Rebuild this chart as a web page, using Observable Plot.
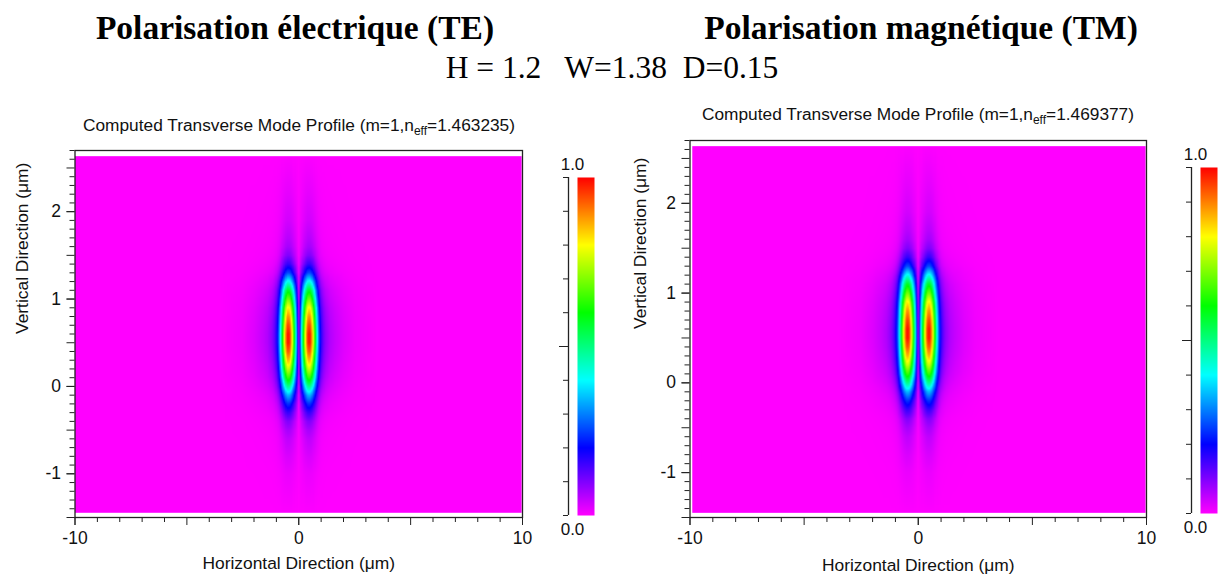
<!DOCTYPE html>
<html><head><meta charset="utf-8">
<script src="https://cdn.jsdelivr.net/npm/d3@7"></script>
<script src="https://cdn.jsdelivr.net/npm/@observablehq/plot@0.6"></script>
<style>
body{margin:0;background:#fff;}
#page{position:relative;width:1225px;height:578px;overflow:hidden;font-family:"Liberation Sans",Arial,sans-serif;color:#111;}
#page svg{position:absolute;top:0;}
.hdr{position:absolute;font-family:"Liberation Serif","Times New Roman",serif;white-space:pre;transform:translate(-50%,-50%);color:#000;line-height:1;}
.ttl{position:absolute;font-size:17.3px;white-space:nowrap;transform:translate(-50%,-50%);line-height:1;color:#111;}
.ttl sub{font-size:12px;vertical-align:-4px;line-height:0;}
</style></head><body><div id="page"></div><script>
// ---------- data ----------
const headers = ["Polarisation électrique (TE)", "Polarisation magnétique (TM)"];
const paramsLine = "H = 1.2   W=1.38  D=0.15";
const titlePrefix = "Computed Transverse Mode Profile (m=1,n";
const neffValues = ["1.463235", "1.469377"];
const xLabel = "Horizontal Direction (μm)";
const yLabel = "Vertical Direction (μm)";
const xDomain = [-10, 10];
const yDomain = [-1.5, 2.7];
const xTickLabels = [-10, 0, 10];
const yTickLabels = [-1, 0, 1, 2];
const colorbarLabels = ["1.0", "0.0"];
// horizontal cut through the lobes (x in µm, relative field)
const profileX      = [-10, -3.5, -2.5, -2.0, -1.6, -1.4, -1.2, -1.1, -1.0, -0.9, -0.8, -0.7, -0.6, -0.5, -0.4, -0.3, -0.2, -0.1, -0.05, 0, 0.05, 0.1, 0.2, 0.3, 0.4, 0.5, 0.6, 0.7, 0.8, 0.9, 1.0, 1.1, 1.2, 1.4, 1.6, 2.0, 2.5, 3.5, 10];
const profileXValue = [0, 0, 0.01, 0.025, 0.045, 0.06, 0.09, 0.12, 0.17, 0.27, 0.45, 0.67, 0.87, 0.99, 0.97, 0.81, 0.59, 0.35, 0.21, 0.04, 0.21, 0.35, 0.59, 0.81, 0.97, 0.99, 0.87, 0.67, 0.45, 0.27, 0.17, 0.12, 0.09, 0.06, 0.045, 0.025, 0.01, 0, 0];
// vertical cut through a lobe (y in µm, relative field)
const profileY      = [-1.5, -1.0, -0.8, -0.6, -0.5, -0.4, -0.3, -0.2, -0.1, 0.0, 0.1, 0.2, 0.3, 0.4, 0.5, 0.6, 0.7, 0.8, 0.9, 1.0, 1.1, 1.2, 1.3, 1.4, 1.5, 1.6, 1.7, 1.9, 2.2, 2.7];
const profileYValue = [0, 0.015, 0.03, 0.05, 0.07, 0.1, 0.16, 0.24, 0.35, 0.5, 0.65, 0.77, 0.87, 0.95, 1.0, 1.0, 0.96, 0.9, 0.82, 0.7, 0.58, 0.42, 0.26, 0.16, 0.1, 0.07, 0.055, 0.035, 0.02, 0];
const colorStops = [0, 0.2, 0.4, 0.6, 0.8, 1];
const colorStopColors = ["#ff00ff", "#0000ff", "#00ffff", "#00ff00", "#ffff00", "#ff0000"];
const colorbarTicks = [0, 0.1, 0.2, 0.3, 0.4, 0.5, 0.6, 0.7, 0.8, 0.9, 1.0];

// ---------- layout ----------
const H = 578;
const panels = [
  {x0: 74.5, x1: 522, y0: 150, y1: 517, rx: [-10, 9.96], ry: [-1.446, 2.635], ylabX: 22, xlabY: 568,
   title: [299, 126], cb: {axis: 568, bar0: 577, bar1: 594, top: 177, bottom: 515}, hdr: 295},
  {x0: 689.5, x1: 1146, y0: 140, y1: 517, rx: [-9.9, 9.96], ry: [-1.448, 2.637], ylabX: 640, xlabY: 570,
   title: [918, 115], cb: {axis: 1191, bar0: 1200, bar1: 1217, top: 167, bottom: 513}, hdr: 921}
];

const page = document.getElementById("page");
const color = {type: "linear", domain: colorStops, range: colorStopColors, interpolate: "rgb", clamp: true};

// field grid: outer product of the two cuts
const grid = [];
profileX.forEach((x, i) => profileY.forEach((y, j) => grid.push({x, y, v: profileXValue[i] * profileYValue[j]})));

const range = (a, b, s) => d3.range(Math.round(a / s), Math.round(b / s) + 1).map(k => +(k * s).toFixed(3));
const xMinor = range(-10, 10, 1).filter(d => d % 5 !== 0);
const xMajor = range(-10, 10, 5);
const yMinor = range(-1.5, 2.7, 0.1).filter(d => Math.abs(d * 2 - Math.round(d * 2)) > 1e-6);
const yMajor = range(-1.5, 2.5, 0.5);
const empty = () => "";
const baseStyle = {background: "transparent", fontFamily: "Liberation Sans, Arial, sans-serif", fontSize: "17px", color: "#111", overflow: "visible"};

panels.forEach((p, k) => {
  const width = p.x1 + 12;
  const main = Plot.plot({
    width, height: H,
    marginLeft: p.x0, marginRight: width - p.x1, marginTop: p.y0, marginBottom: H - p.y1,
    style: baseStyle,
    x: {domain: xDomain, label: null},
    y: {domain: yDomain, label: null},
    color,
    marks: [
      Plot.raster(grid, {x: "x", y: "y", fill: "v", interpolate: "barycentric", x1: p.rx[0], x2: p.rx[1], y1: p.ry[0], y2: p.ry[1]}),
      Plot.frame({stroke: "#222", strokeWidth: 1.3}),
      Plot.axisX({ticks: xMinor, tickSize: 5, tickFormat: empty, stroke: "#222", label: null}),
      Plot.axisX({ticks: xMajor, tickSize: 8, tickFormat: empty, stroke: "#222", label: null}),
      Plot.axisX({ticks: xTickLabels, tickSize: 8, tickPadding: 6, tickFormat: d => String(d), fontSize: 17.5, stroke: "#222", label: null}),
      Plot.axisY({ticks: yMinor, tickSize: 5, tickFormat: empty, stroke: "#222", label: null}),
      Plot.axisY({ticks: yMajor, tickSize: 8, tickFormat: empty, stroke: "#222", label: null}),
      Plot.axisY({ticks: yTickLabels, tickSize: 8, tickPadding: 6, tickFormat: d => String(d), fontSize: 17.5, stroke: "#222", label: null}),
      Plot.text([yLabel], {frameAnchor: "left", rotate: -90, dx: p.ylabX - p.x0, fontSize: 17.4}),
      Plot.text([xLabel], {frameAnchor: "bottom", dy: p.xlabY - p.y1, fontSize: 17.4})
    ]
  });
  main.style.left = "0px";
  page.appendChild(main);

  const c = p.cb, cbLeft = c.axis - 30, cbWidth = 70;
  const barStart = (c.bar0 - c.axis) / (c.bar1 - c.axis);
  const bar = Plot.plot({
    width: cbWidth, height: H,
    marginLeft: c.axis - cbLeft, marginRight: cbLeft + cbWidth - c.bar1, marginTop: c.top, marginBottom: H - c.bottom,
    style: baseStyle,
    x: {domain: [0, 1], axis: null},
    y: {domain: [0, 1], axis: null},
    color,
    marks: [
      Plot.raster({fill: (x, y) => y, x1: barStart, x2: 1, y1: 0, y2: 1}),
      Plot.ruleX([0], {stroke: "#222", strokeWidth: 1.3}),
      Plot.axisY({ticks: colorbarTicks, tickSize: 5, tickFormat: empty, stroke: "#222", label: null}),
      Plot.axisY({ticks: [0.5], tickSize: 9, tickFormat: empty, stroke: "#222", label: null}),
      Plot.text([colorbarLabels[0]], {frameAnchor: "top-left", lineAnchor: "middle", dx: 4, dy: -13, fontSize: 17, textAnchor: "middle"}),
      Plot.text([colorbarLabels[1]], {frameAnchor: "bottom-left", lineAnchor: "middle", dx: 4, dy: 14, fontSize: 17, textAnchor: "middle"})
    ]
  });
  bar.style.left = cbLeft + "px";
  page.appendChild(bar);

  const t = document.createElement("div");
  t.className = "ttl";
  t.style.left = p.title[0] + "px"; t.style.top = p.title[1] + "px";
  t.innerHTML = `${titlePrefix}<sub>eff</sub>=${neffValues[k]})`;
  page.appendChild(t);

  const h = document.createElement("div");
  h.className = "hdr";
  h.style.left = p.hdr + "px"; h.style.top = "28px";
  h.style.fontSize = "33.5px"; h.style.fontWeight = "bold";
  h.textContent = headers[k];
  page.appendChild(h);
});

const pl = document.createElement("div");
pl.className = "hdr";
pl.style.left = "612px"; pl.style.top = "68px"; pl.style.fontSize = "31.5px";
pl.textContent = paramsLine;
page.appendChild(pl);
</script></body></html>
